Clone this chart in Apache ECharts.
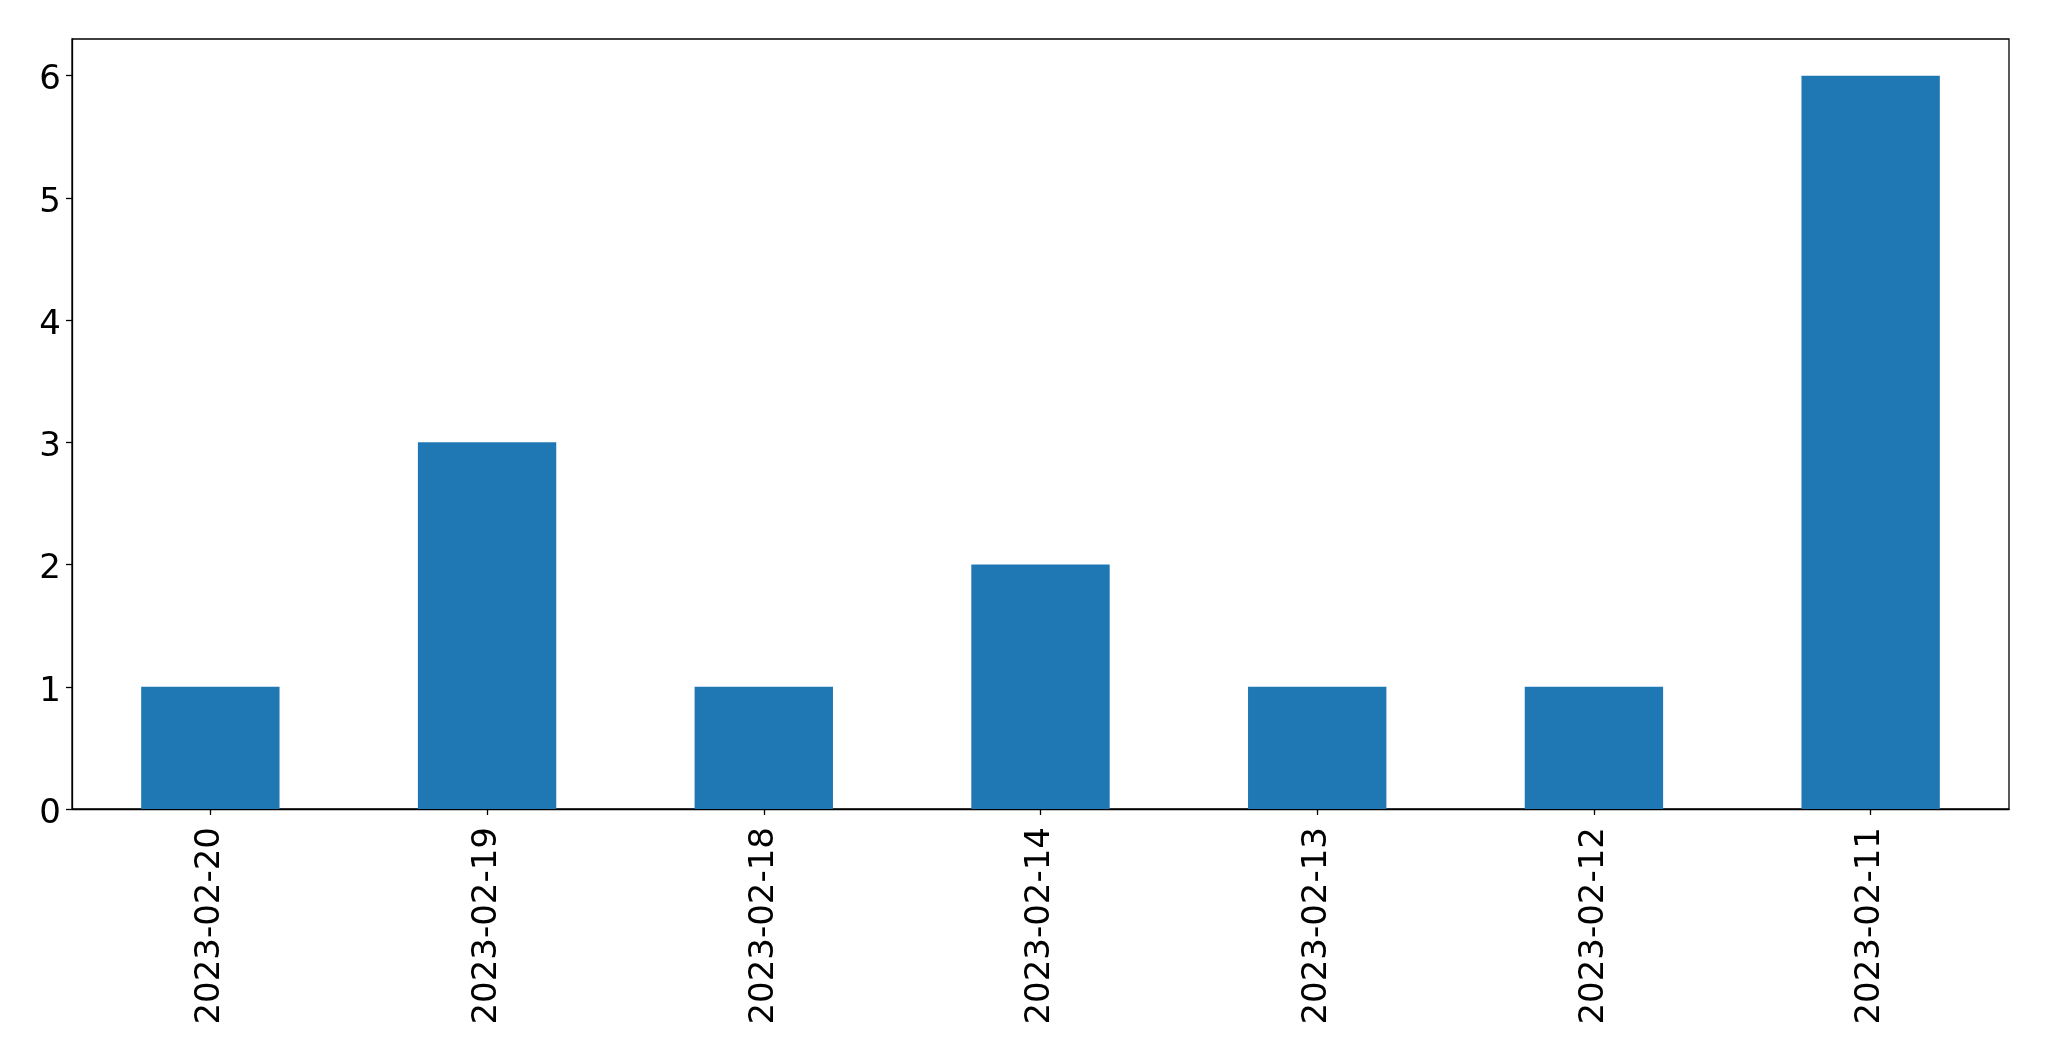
<!DOCTYPE html>
<html>
<head>
<meta charset="utf-8">
<script src="https://cdn.jsdelivr.net/npm/echarts@6/dist/echarts.min.js"></script>
<style>html,body{margin:0;padding:0;background:#fff}#c{width:2049px;height:1061px}</style>
</head>
<body>
<div id="c"></div>
<script>
const categories = ['2023-02-20','2023-02-19','2023-02-18','2023-02-14','2023-02-13','2023-02-12','2023-02-11'];
const values = [1, 3, 1, 2, 1, 1, 6];
const yTicks = [0, 1, 2, 3, 4, 5, 6];

const chart = echarts.init(document.getElementById('c'), null, {renderer: 'canvas'});
const font = 'DejaVu Sans';
chart.setOption({
  animation: false,
  grid: {left: 72, right: 40, top: 39, bottom: 252, show: true, borderColor: '#000', borderWidth: 1.3, backgroundColor: 'transparent'},
  xAxis: {
    type: 'category', data: categories, boundaryGap: true,
    axisLine: {show: true, lineStyle: {color: '#000', width: 1.3}},
    axisTick: {show: true, alignWithLabel: true, length: 6, lineStyle: {color: '#000', width: 1.3}},
    axisLabel: {rotate: 90, fontFamily: font, fontSize: 34, color: '#000', margin: 18, interval: 0},
    splitLine: {show: false}
  },
  yAxis: {
    type: 'value', min: 0, max: 6.3, interval: 1,
    axisLine: {show: true, lineStyle: {color: '#000', width: 1.3}},
    axisTick: {show: true, length: 6, customValues: yTicks, lineStyle: {color: '#000', width: 1.3}},
    axisLabel: {fontFamily: font, fontSize: 34, color: '#000', margin: 11, customValues: yTicks,
      formatter: v => '{s| }\n{v|' + v + '}',
      rich: {
        s: {fontSize: 2, lineHeight: 10},
        v: {fontFamily: font, fontSize: 34, lineHeight: 40, color: '#000'}
      }},
    splitLine: {show: false}
  },
  series: [{type: 'bar', data: values, barWidth: '50%', itemStyle: {color: '#1f77b4'}}]
});
</script>
</body>
</html>
